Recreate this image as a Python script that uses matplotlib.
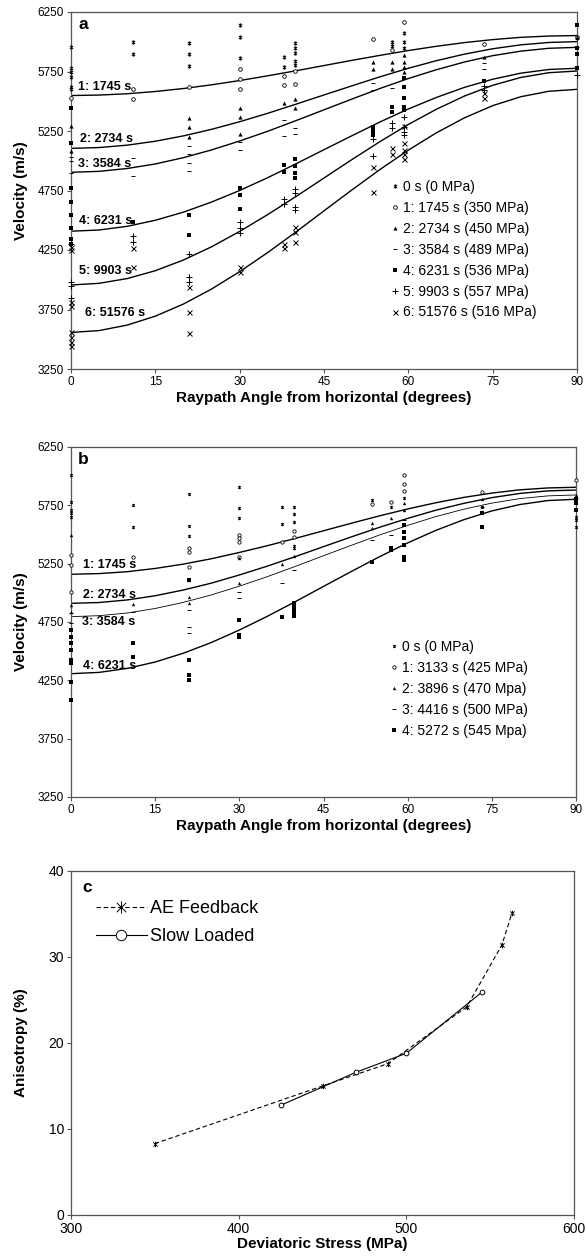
import numpy as np
import matplotlib.pyplot as plt
from matplotlib.path import Path

plt.rcParams['font.family'] = ['Liberation Sans', 'DejaVu Sans']

# ---------------- panel a: measured velocities ----------------
a0_ang = [0, 0, 0, 0, 0, 0, 11, 11, 21, 21, 21, 30, 30, 30, 37.8, 37.8,
          39.8, 39.8, 39.8, 39.8, 39.8, 57.1, 57.1, 59.3, 59.3, 59.3, 90]
a0_vel = [5954, 5778, 5745, 5700, 5620, 5605, 6002, 5896, 5988, 5896, 5800, 6143, 6042, 5862, 5870, 5792,
          5988, 5946, 5904, 5840, 5806, 6000, 5964, 6076, 5996, 5946, 6030]
a1_ang = [0, 11, 11, 21, 30, 30, 30, 37.8, 37.8, 39.8, 39.8, 53.7, 57.1, 59.3, 73.5, 90]
a1_vel = [5526, 5604, 5518, 5616, 5772, 5688, 5604, 5714, 5635, 5756, 5644, 6020, 5931, 6169, 5978, 6040]
a2_ang = [0, 0, 21, 21, 21, 30, 30, 30, 37.8, 39.8, 39.8, 53.7, 53.7, 57.1, 57.1,
          59.3, 59.3, 59.3, 59.3, 73.5, 90]
a2_vel = [5292, 5085, 5362, 5281, 5202, 5446, 5370, 5222, 5484, 5520, 5440, 5832, 5768, 5832, 5768,
          5889, 5832, 5790, 5748, 5869, 6042]
a3_ang = [0, 0, 0, 11, 11, 21, 21, 21, 21, 30, 30, 37.8, 37.8, 39.8, 39.8, 53.7, 53.7,
          57.1, 59.3, 73.5, 73.5, 90]
a3_vel = [5034, 5000, 4896, 5020, 4874, 5127, 5054, 4984, 4917, 5160, 5090, 5344, 5209, 5278, 5222, 5656, 5595,
          5609, 5692, 5819, 5768, 5960]
a4_ang = [0, 0, 0, 0, 0, 0, 0, 0, 11, 21, 21, 30, 30, 30, 37.8, 37.8, 39.8, 39.8, 39.8, 39.8,
          53.7, 53.7, 53.7, 57.1, 57.1, 59.3, 59.3, 59.3, 59.3, 59.3, 73.5, 90, 90, 90, 90]
a4_vel = [5447, 5146, 4770, 4657, 4545, 4439, 4341, 4300, 4489, 4540, 4373, 4770, 4714, 4594, 4966, 4904,
          5016, 4952, 4901, 4854, 5286, 5252, 5216, 5454, 5412, 5698, 5622, 5524, 5454, 5426, 5670,
          6141, 5945, 5900, 5777]
a5_ang = [0, 0, 0, 0, 11, 11, 21, 21, 21, 30, 30, 30, 37.8, 37.8, 39.8, 39.8, 39.8, 39.8,
          53.7, 53.7, 57.1, 57.1, 59.3, 59.3, 59.3, 59.3, 73.5, 73.5, 90]
a5_vel = [4300, 3983, 3950, 3850, 4368, 4320, 4216, 4026, 3983, 4489, 4433, 4390, 4677, 4640, 4761, 4727,
          4615, 4587, 5180, 5040, 5315, 5272, 5370, 5286, 5244, 5216, 5628, 5595, 5720]
a6_ang = [0, 0, 0, 0, 0, 0, 0, 0, 11, 11, 21, 21, 21, 30, 30, 37.8, 37.8, 39.8, 39.8, 39.8,
          53.7, 53.7, 57.1, 57.1, 59.3, 59.3, 59.3, 59.3, 59.3, 73.5, 73.5]
a6_vel = [4278, 4250, 3810, 3780, 3562, 3520, 3480, 3440, 4265, 4111, 3942, 3732, 3550, 4111, 4068, 4299, 4265,
          4447, 4405, 4320, 4949, 4740, 5104, 5057, 5292, 5147, 5093, 5053, 5012, 5524, 5566]

# fitted curves every 5 degrees
curve_ang = [0, 5, 10, 15, 20, 25, 30, 35, 40, 45, 50, 55, 60, 65, 70, 75, 80, 85, 90]
a_fit1 = [5548, 5552, 5563, 5582, 5607, 5638, 5674, 5714, 5756, 5800, 5844, 5886, 5926, 5962, 5993, 6018, 6037, 6048, 6052]
a_fit2 = [5104, 5111, 5131, 5164, 5209, 5264, 5328, 5399, 5475, 5553, 5630, 5706, 5777, 5841, 5896, 5941, 5974, 5994, 6001]
a_fit3 = [4903, 4911, 4935, 4973, 5026, 5091, 5166, 5248, 5337, 5428, 5519, 5608, 5691, 5765, 5830, 5883, 5921, 5945, 5953]
a_fit4 = [4408, 4418, 4449, 4500, 4568, 4653, 4750, 4858, 4974, 5093, 5211, 5327, 5435, 5532, 5617, 5685, 5736, 5767, 5777]
a_fit5 = [3956, 3970, 4010, 4076, 4166, 4277, 4406, 4548, 4699, 4855, 5011, 5162, 5305, 5433, 5544, 5634, 5700, 5740, 5754]
a_fit6 = [3557, 3573, 3619, 3694, 3796, 3922, 4068, 4229, 4401, 4579, 4756, 4928, 5089, 5235, 5361, 5463, 5538, 5584, 5600]

a_legend = ["0 s (0 MPa)", "1: 1745 s (350 MPa)", "2: 2734 s (450 MPa)", "3: 3584 s (489 MPa)",
            "4: 6231 s (536 MPa)", "5: 9903 s (557 MPa)", "6: 51576 s (516 MPa)"]
a_curve_labels = ["1: 1745 s", "2: 2734 s", "3: 3584 s", "4: 6231 s", "5: 9903 s", "6: 51576 s"]
a_label_pos = [(1.3, 5620), (1.6, 5183), (1.3, 4973), (1.4, 4496), (1.4, 4076), (2.5, 3718)]

# ---------------- panel b ----------------
b0_ang = [0, 0, 0, 0, 0, 11, 11, 21, 21, 21, 30, 30, 30, 37.6, 37.6, 39.8, 39.8, 39.8, 39.8,
          53.7, 57.1, 59.3, 73.3, 73.3, 90, 90, 90]
b0_vel = [6010, 5781, 5710, 5681, 5647, 5753, 5561, 5847, 5573, 5487, 5904, 5724, 5644, 5733, 5587,
          5733, 5676, 5604, 5401, 5796, 5738, 5810, 5738, 5696, 5653, 5624, 5567]
b1_ang = [0, 0, 0, 11, 21, 21, 21, 30, 30, 30, 30, 37.6, 39.8, 39.8, 53.7, 57.1, 59.3, 59.3, 59.3, 73.3, 90]
b1_vel = [5324, 5239, 5010, 5310, 5381, 5353, 5224, 5496, 5467, 5439, 5310, 5439, 5533, 5481, 5759, 5781,
          6010, 5933, 5876, 5862, 5967]
b2_ang = [0, 0, 0, 11, 21, 21, 21, 30, 30, 37.6, 39.8, 39.8, 53.7, 53.7, 57.1, 59.3, 59.3, 73.3, 90]
b2_vel = [5496, 4896, 4839, 4901, 5110, 4967, 4916, 5301, 5081, 5244, 5381, 5319, 5601, 5553, 5639,
          5767, 5710, 5802, 5839]
b3_ang = [0, 0, 11, 21, 21, 21, 30, 30, 37.6, 39.8, 53.7, 57.1, 59.3, 73.3, 90]
b3_vel = [4824, 4739, 4839, 4853, 4710, 4653, 5010, 4953, 5081, 5196, 5453, 5496, 5624, 5738, 5810]
b4_ang = [0, 0, 0, 0, 0, 0, 0, 0, 11, 11, 21, 21, 21, 21, 30, 30, 30, 37.6, 39.8, 39.8, 39.8, 39.8, 39.8,
          53.7, 57.1, 57.1, 59.3, 59.3, 59.3, 59.3, 59.3, 59.3, 73.3, 73.3, 90, 90, 90]
b4_vel = [4681, 4624, 4567, 4510, 4424, 4396, 4239, 4081, 4567, 4453, 5110, 4424, 4296, 4253, 4767, 4639,
          4624, 4796, 4916, 4881, 4853, 4824, 4801, 5267, 5382, 5367, 5581, 5524, 5467, 5410, 5310, 5281,
          5682, 5562, 5802, 5767, 5710]

b_fit1 = [5159, 5165, 5181, 5209, 5246, 5292, 5346, 5404, 5467, 5532, 5597, 5660, 5719, 5772, 5818, 5855, 5883, 5899, 5905]
b_fit2 = [4910, 4917, 4939, 4975, 5024, 5083, 5153, 5229, 5311, 5396, 5480, 5562, 5638, 5708, 5767, 5816, 5852, 5874, 5881]
b_fit3 = [4796, 4804, 4827, 4866, 4918, 4982, 5057, 5139, 5227, 5318, 5408, 5496, 5578, 5653, 5717, 5769, 5808, 5831, 5839]
b_fit4 = [4307, 4318, 4352, 4407, 4482, 4574, 4681, 4799, 4925, 5055, 5184, 5310, 5428, 5535, 5627, 5702, 5757, 5791, 5802]

b_legend = ["0 s (0 MPa)", "1: 3133 s (425 MPa)", "2: 3896 s (470 Mpa)",
            "3: 4416 s (500 MPa)", "4: 5272 s (545 Mpa)"]
b_curve_labels = ["1: 1745 s", "2: 2734 s", "3: 3584 s", "4: 6231 s"]
b_label_pos = [(2.2, 5239), (2.1, 4981), (1.9, 4747), (2.1, 4373)]

# ---------------- panel c ----------------
ae_stress = [350, 450, 489, 536, 557, 563]
ae_aniso = [8.3, 15.0, 17.6, 24.2, 31.4, 35.1]
slow_stress = [425, 470, 500, 545]
slow_aniso = [12.75, 16.6, 18.8, 25.9]

# x with a vertical bar, like the spreadsheet "star" marker
star = Path([(-1, -1), (1, 1), (-1, 1), (1, -1), (0, -1.3), (0, 1.3)],
            [Path.MOVETO, Path.LINETO, Path.MOVETO, Path.LINETO, Path.MOVETO, Path.LINETO])

SPINE = '#555555'


def style_axes(ax):
    for s in ax.spines.values():
        s.set_color(SPINE)
        s.set_linewidth(0.9)
    ax.tick_params(direction='out', length=3, width=0.8, color=SPINE, labelsize=8.5, pad=2)


def marker_kw(m, ms):
    if m == 'o':
        return dict(marker='o', ms=ms, mfc='white', mec='black', mew=0.6)
    if m in ('^', 's'):
        return dict(marker=m, ms=ms, mfc='black', mec='black', mew=0)
    return dict(marker=m, ms=ms, mfc='none', mec='black', mew=0.7)


def velocity_panel(ax, series, markers, sizes, fits, fit_lw, legend, curve_labels, label_pos,
                   letter, leg_top):
    style_axes(ax)
    for (ang, vel), m, ms, lab in zip(series, markers, sizes, legend):
        ax.plot(ang, vel, ls='none', label=lab, clip_on=False, zorder=3, **marker_kw(m, ms))
    for fit, lw in zip(fits, fit_lw):
        ax.plot(curve_ang, fit, color='black', lw=lw)
    for txt, (x, y) in zip(curve_labels, label_pos):
        ax.text(x, y, txt, fontsize=9, fontweight='bold', ha='left', va='center')
    ax.set_xlim(0, 90)
    ax.set_ylim(3250, 6250)
    ax.set_xticks(np.arange(0, 91, 15))
    ax.set_yticks(np.arange(3250, 6251, 500))
    ax.set_xlabel('Raypath Angle from horizontal (degrees)', fontsize=11, fontweight='bold', labelpad=2)
    ax.set_ylabel('Velocity (m/s)', fontsize=11, fontweight='bold', labelpad=7)
    ax.text(0.014, 0.985, letter, transform=ax.transAxes, fontsize=12.5, fontweight='bold',
            ha='left', va='top')
    ax.legend(loc='upper left', bbox_to_anchor=(0.632, leg_top), frameon=False, fontsize=10,
              handlelength=0.6, handletextpad=0.25, labelspacing=0.5, borderpad=0, borderaxespad=0)


fig = plt.figure(figsize=(5.86, 12.57), dpi=100)

ax_a = fig.add_axes([71 / 586, 1 - 369 / 1257, 506 / 586, 357 / 1257])
velocity_panel(ax_a,
               [(a0_ang, a0_vel), (a1_ang, a1_vel), (a2_ang, a2_vel), (a3_ang, a3_vel),
                (a4_ang, a4_vel), (a5_ang, a5_vel), (a6_ang, a6_vel)],
               [star, 'o', '^', '_', 's', '+', 'x'],
               [3.0, 2.6, 3.0, 3.0, 2.4, 4.0, 3.6],
               [a_fit1, a_fit2, a_fit3, a_fit4, a_fit5, a_fit6], [1.0] * 6,
               a_legend, a_curve_labels, a_label_pos, 'a', 0.53)

ax_b = fig.add_axes([71 / 586, 1 - 797 / 1257, 505 / 586, 350 / 1257])
velocity_panel(ax_b,
               [(b0_ang, b0_vel), (b1_ang, b1_vel), (b2_ang, b2_vel), (b3_ang, b3_vel), (b4_ang, b4_vel)],
               [star, 'o', '^', '_', 's'],
               [2.4, 2.4, 2.4, 2.6, 2.4],
               [b_fit1, b_fit2, b_fit3, b_fit4], [1.0, 1.0, 0.6, 1.0],
               b_legend, b_curve_labels, b_label_pos, 'b', 0.448)

ax_c = fig.add_axes([71 / 586, 1 - 1215 / 1257, 503 / 586, 344 / 1257])
style_axes(ax_c)
ax_c.tick_params(labelsize=10)
ax_c.plot(ae_stress, ae_aniso, color='black', lw=0.8, ls=(0, (4, 2.5)), marker=star, ms=4,
          mfc='none', mec='black', mew=0.7, label='AE Feedback')
ax_c.plot(slow_stress, slow_aniso, color='black', lw=0.8, marker='o', ms=3.4,
          mfc='white', mec='black', mew=0.7, label='Slow Loaded')
ax_c.set_xlim(300, 600)
ax_c.set_ylim(0, 40)
ax_c.set_xticks([300, 400, 500, 600])
ax_c.set_yticks([0, 10, 20, 30, 40])
ax_c.set_xlabel('Deviatoric Stress (MPa)', fontsize=11, fontweight='bold', labelpad=1)
ax_c.set_ylabel('Anisotropy (%)', fontsize=11, fontweight='bold', labelpad=15)
ax_c.text(0.022, 0.975, 'c', transform=ax_c.transAxes, fontsize=12.5, fontweight='bold',
          ha='left', va='top')
ax_c.legend(loc='upper left', bbox_to_anchor=(0.05, 0.915), frameon=False, fontsize=13,
            handlelength=2.8, handletextpad=0.2, labelspacing=0.6, markerscale=2.2,
            borderpad=0, borderaxespad=0)

fig.savefig('out.png', dpi=100)
